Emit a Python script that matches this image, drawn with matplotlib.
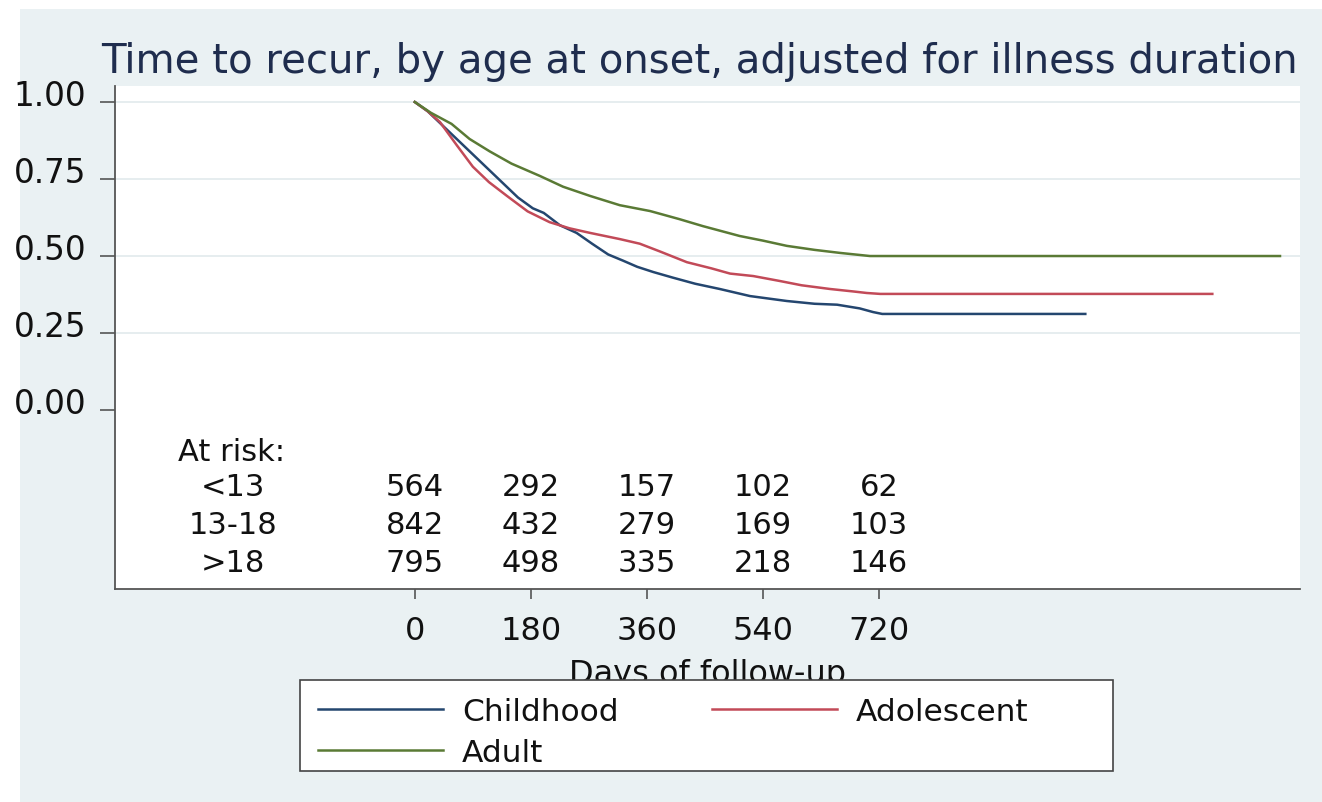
import matplotlib
matplotlib.use("Agg")
import matplotlib.pyplot as plt
import matplotlib.transforms as mtransforms
from matplotlib.patches import Rectangle

plt.rcParams['font.family'] = ['DejaVu Sans']

# ---- data -------------------------------------------------------------
title = "Time to recur, by age at onset, adjusted for illness duration"
groups = ["Childhood", "Adolescent", "Adult"]
colors = ["#24466f", "#c24a58", "#5a7a35"]

child_days = [0, 20, 45, 70, 85, 110, 135, 160, 183, 200, 225, 251, 275, 300,
              323, 345, 370, 400, 435, 473, 520, 577, 620, 655, 690, 711, 725, 1040]
child_surv = [1.00, 0.97, 0.92, 0.87, 0.84, 0.79, 0.74, 0.69, 0.655, 0.64, 0.60,
              0.575, 0.54, 0.505, 0.485, 0.465, 0.448, 0.43, 0.41, 0.393, 0.37,
              0.354, 0.345, 0.342, 0.33, 0.318, 0.312, 0.312]

adol_days = [0, 20, 39, 65, 90, 115, 143, 175, 209, 240, 272, 318, 349, 380, 422,
             460, 489, 525, 566, 600, 644, 680, 701, 722, 1237]
adol_surv = [1.00, 0.97, 0.935, 0.86, 0.79, 0.74, 0.695, 0.645, 0.61, 0.59, 0.575,
             0.555, 0.54, 0.515, 0.48, 0.46, 0.443, 0.435, 0.419, 0.405, 0.393,
             0.385, 0.38, 0.377, 0.377]

adult_days = [0, 25, 57, 85, 116, 150, 194, 230, 272, 318, 365, 410, 447, 504,
              540, 577, 620, 660, 706, 1342]
adult_surv = [1.00, 0.965, 0.929, 0.88, 0.84, 0.80, 0.76, 0.725, 0.695, 0.665,
              0.646, 0.62, 0.597, 0.565, 0.55, 0.533, 0.52, 0.51, 0.50, 0.50]

risk_times = [0, 180, 360, 540, 720]
risk_labels = ["<13", "13-18", ">18"]
risk_counts = [[564, 292, 157, 102, 62],
               [842, 432, 279, 169, 103],
               [795, 498, 335, 218, 146]]

yticks = [0.00, 0.25, 0.50, 0.75, 1.00]
ytick_labels = ["0.00", "0.25", "0.50", "0.75", "1.00"]
xlabel = "Days of follow-up"

# ---- figure -----------------------------------------------------------
W, H = 1322, 803
fig = plt.figure(figsize=(W / 100, H / 100), dpi=100, facecolor="white")
fig.add_artist(Rectangle((20 / W, 0), 1 - 20 / W, 1 - 10 / H,
                         transform=fig.transFigure, facecolor="#eaf1f3",
                         edgecolor="none", zorder=-10))

ax = fig.add_axes([115 / W, 1 - 590 / H, (1300 - 115) / W, (590 - 87) / H])
ax.set_facecolor("white")
ax.set_xlim(-465, 1373)
ax.set_ylim(-0.581, 1.052)

for side in ("top", "right"):
    ax.spines[side].set_visible(False)
for side in ("left", "bottom"):
    ax.spines[side].set_color("#555555")
    ax.spines[side].set_linewidth(1.3)

# horizontal grid lines
for yv in yticks[1:]:
    ax.axhline(yv, color="#e6edef", lw=1.4, zorder=0)

series = [(child_days, child_surv), (adol_days, adol_surv), (adult_days, adult_surv)]
lines = []
for (d, s), name, c in zip(series, groups, colors):
    ln, = ax.plot(d, s, color=c, lw=1.8, label=name, zorder=3,
                  solid_joinstyle="round")
    lines.append(ln)

ax.set_yticks(yticks)
ax.set_yticklabels(ytick_labels)
ax.set_xticks(risk_times)
ax.set_xticklabels([str(t) for t in risk_times])
ax.tick_params(axis="y", length=10.8, width=1.2, color="#555555", pad=10,
               labelsize=23.5, labelcolor="#111111")
ax.tick_params(axis="x", length=7.5, width=1.2, color="#555555", pad=11,
               labelsize=23, labelcolor="#111111")
shift = mtransforms.ScaledTranslation(0, 10 / 100, fig.dpi_scale_trans)
for lab in ax.get_yticklabels():
    lab.set_transform(lab.get_transform() + shift)

ax.set_xlabel(xlabel, fontsize=23, color="#111111", labelpad=9)

# number-at-risk table
ax.text(-368, -0.133, "At risk:", fontsize=22, ha="left", va="center", color="#111111")
row_y = [-0.247, -0.370, -0.494]
for lab, counts, yv in zip(risk_labels, risk_counts, row_y):
    ax.text(-282, yv, lab, fontsize=22, ha="center", va="center", color="#111111")
    for t, n in zip(risk_times, counts):
        ax.text(t, yv, str(n), fontsize=22, ha="center", va="center", color="#111111")

fig.text(699 / W, 1 - 62 / H, title, fontsize=29, color="#1f2d4e",
         ha="center", va="center")

# legend box and entries (row-wise order: Childhood, Adolescent / Adult)
fig.add_artist(Rectangle((300 / W, 1 - 772 / H), (1113 - 300) / W, (772 - 681) / H,
                         transform=fig.transFigure, facecolor="white",
                         edgecolor="#444444", lw=1.2, zorder=3))
order = [0, 2, 1]
leg = fig.legend([lines[i] for i in order], [groups[i] for i in order],
                 loc="center left", bbox_to_anchor=(318 / W, 1 - 733 / H),
                 ncol=2, frameon=False, fontsize=22.5, handlelength=4.0,
                 handletextpad=0.6, columnspacing=3.0, labelspacing=0.38,
                 borderpad=0, borderaxespad=0)
leg.set_zorder(5)
for t in leg.get_texts():
    t.set_color("#111111")

fig.savefig("out.png", dpi=100, facecolor="white")
